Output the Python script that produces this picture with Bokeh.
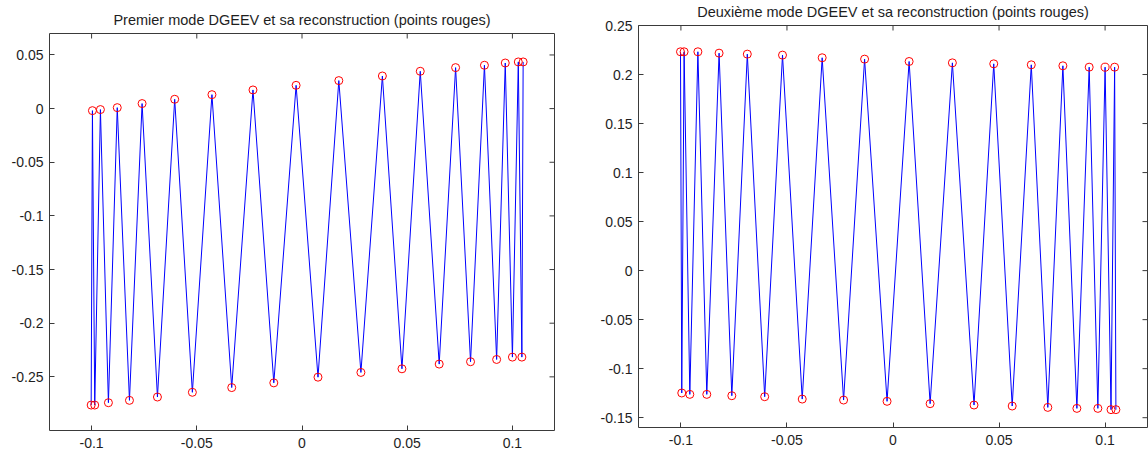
import math
from bokeh.plotting import figure
from bokeh.layouts import row, column
from bokeh.models import FixedTicker, CustomJSTickFormatter, Range1d
from bokeh.embed import file_html
from bokeh.resources import INLINE

# x positions of the collocation points (shared by both modes)
nodes = [-0.1002, -0.0996, -0.0985, -0.0958, -0.0920, -0.0878, -0.0820, -0.0760,
         -0.0687, -0.0605, -0.0521, -0.0428, -0.0334, -0.0233, -0.0134, -0.0028,
         0.0076, 0.0175, 0.0280, 0.0382, 0.0475, 0.0562, 0.0652, 0.0730,
         0.0801, 0.0867, 0.0925, 0.0966, 0.1000, 0.1028, 0.1045, 0.1051]

mode1 = [-0.2763, -0.0019, -0.2763, -0.0009, -0.2741, 0.0009, -0.2719, 0.0047,
         -0.2688, 0.0087, -0.2644, 0.0130, -0.2600, 0.0174, -0.2556, 0.0217,
         -0.2503, 0.0261, -0.2459, 0.0304, -0.2425, 0.0348, -0.2381, 0.0382,
         -0.2359, 0.0404, -0.2338, 0.0425, -0.2316, 0.0435, -0.2316, 0.0435]

mode2 = [0.2232, -0.1248, 0.2232, -0.1262, 0.2232, -0.1262, 0.2218, -0.1276,
         0.2208, -0.1286, 0.2198, -0.1310, 0.2171, -0.1320, 0.2157, -0.1333,
         0.2133, -0.1357, 0.2119, -0.1371, 0.2109, -0.1381, 0.2099, -0.1395,
         0.2089, -0.1405, 0.2075, -0.1405, 0.2075, -0.1418, 0.2075, -0.1418]

title1 = "Premier mode DGEEV et sa reconstruction (points rouges)"
title2 = "Deuxième mode DGEEV et sa reconstruction (points rouges)"

x_lim = (-0.12, 0.12)
y_lim1 = (-0.30, 0.07)
y_lim2 = (-0.16, 0.25)

x_ticks = [-0.1, -0.05, 0, 0.05, 0.1]
y_ticks1 = [-0.25, -0.2, -0.15, -0.1, -0.05, 0, 0.05]
y_ticks2 = [-0.15, -0.1, -0.05, 0, 0.05, 0.1, 0.15, 0.2, 0.25]

FONT = "Liberation Sans"
TXT = "#1e1e1e"
AX = "#3a3a3a"

fmt_code = """
var s = tick.toFixed(2);
s = s.replace(/0+$/, '');
s = s.replace(/\\.$/, '');
if (s == '-0') { s = '0'; }
return s;
"""


def style_axis(ax, ticks, standoff):
    ax.ticker = FixedTicker(ticks=ticks)
    ax.major_tick_in = 5
    ax.major_tick_out = 0
    ax.minor_tick_in = 0
    ax.minor_tick_out = 0
    ax.major_tick_line_color = AX
    ax.axis_line_color = None
    ax.formatter = CustomJSTickFormatter(code=fmt_code)
    ax.major_label_text_font = FONT
    ax.major_label_text_font_size = "14px"
    ax.major_label_text_color = TXT
    ax.major_label_standoff = standoff


def make(title, ys, ylim, yticks, width, mbl, mbr, mbt, mbb):
    p = figure(width=width, height=455,
               x_range=Range1d(*x_lim), y_range=Range1d(*ylim),
               output_backend="svg", toolbar_location=None,
               min_border_left=mbl, min_border_right=mbr,
               min_border_top=mbt, min_border_bottom=mbb)
    p.title.text = title
    p.title.align = "center"
    p.title.vertical_align = "top"
    p.title.text_font = FONT
    p.title.text_font_size = "14.5px"
    p.title.text_font_style = "normal"
    p.title.text_color = TXT
    p.title.standoff = 7
    p.xgrid.visible = False
    p.ygrid.visible = False
    p.outline_line_color = AX
    p.outline_line_width = 1
    p.background_fill_color = "white"
    p.border_fill_color = "white"

    style_axis(p.xaxis[0], x_ticks, 7)
    style_axis(p.yaxis[0], yticks, 6)

    # inward ticks on the top and right edges of the box (clipped to the frame)
    p.scatter(x_ticks, [ylim[1]] * len(x_ticks), marker="dash", size=10,
              angle=math.pi / 2, line_color=AX, line_width=1)
    p.scatter([x_lim[1]] * len(yticks), yticks, marker="dash", size=10,
              line_color=AX, line_width=1)

    p.line(nodes, ys, line_color="#0000ff", line_width=1)
    p.scatter(nodes, ys, marker="circle", size=8, fill_color=None,
              line_color="#ff0000", line_width=1)
    return p


p1 = make(title1, mode1, y_lim1, y_ticks1, 596, 49, 42, 33, 25)
p2 = make(title2, mode2, y_lim2, y_ticks2, 552, 42, 1, 25, 28)

layout = row(column(p1), column(p2))
open("out.html", "w").write(file_html(layout, INLINE))
